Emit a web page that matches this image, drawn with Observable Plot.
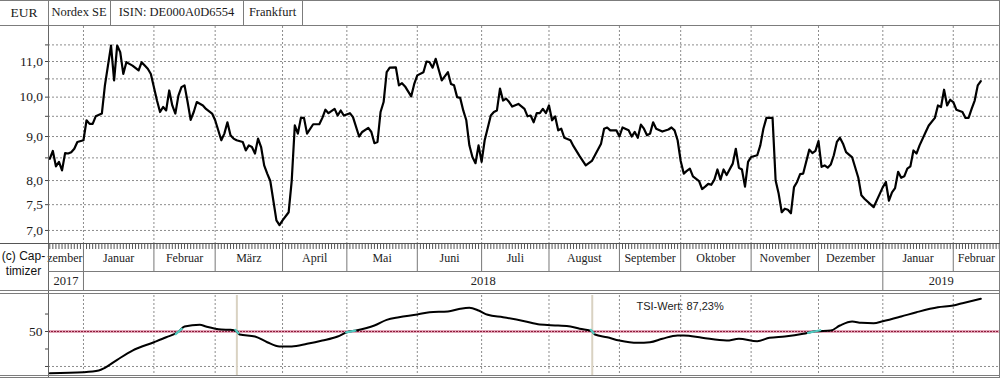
<!DOCTYPE html>
<html><head><meta charset="utf-8">
<script src="https://cdn.jsdelivr.net/npm/d3@7"></script>
<script src="https://cdn.jsdelivr.net/npm/@observablehq/plot@0.6"></script>
<style>
html,body{margin:0;padding:0;background:#fff;}
#root{position:relative;width:1000px;height:378px;overflow:hidden;background:#fff;}
#root svg{position:absolute;left:0;}
.ln{position:absolute;background:#7c7c7c;}
.cell{position:absolute;top:0;height:25px;line-height:25px;text-align:center;font-family:"Liberation Serif",serif;font-size:12.5px;color:#1a1a1a;white-space:nowrap;}
#copy{position:absolute;left:0;top:244px;width:47px;height:46px;background:#fff;font-family:"Liberation Sans",Arial,sans-serif;font-size:12px;line-height:15px;text-align:center;color:#111;}
</style></head><body><div id="root"></div>
<script>
// ---------- data ----------
const tradingStart = "2017-12-15"; // trading day 0 (weekdays counted from here)
const priceDay = [
  0,1,2,3,4,5,6,7,8,9,
  11,12,13,14,15,17,18,20,21,22,
  23,24,25,26,27,29,30,32,33,35,
  36,37,38,39,40,41,42,43,44,45,
  46,47,48,50,51,53,54,56,57,58,
  59,60,61,63,64,65,66,67,68,69,
  70,71,72,74,75,76,78,79,80,81,
  82,83,84,86,88,89,90,91,93,94,
  95,96,98,99,101,102,104,105,106,107,
  108,109,110,111,113,114,115,116,118,119,
  120,122,123,124,125,126,127,128,130,131,
  132,133,134,135,136,137,138,139,140,141,
  142,144,145,146,147,148,149,150,151,153,
  155,156,157,158,159,160,161,162,163,164,
  165,166,167,168,170,171,173,175,177,178,
  180,181,182,183,185,186,187,189,190,191,
  192,193,194,195,196,197,198,200,202,203,
  204,205,206,207,208,209,210,212,213,214,
  215,216,217,218,219,220,221,223,224,225,
  226,227,228,229,231,232,233,234,236,237,
  238,239,240,241,242,243,244,245,246,248,
  249,250,251,252,253,254,255,256,257,258,
  259,260,262,264,265,266,269,271,272,273,
  274,275,276,277,278,279,280,281,282,283,
  284,286,287,289,290,291,292,293,294,295,
  296,298,299,300,301,302,303,304
];
const priceEUR = [
  8.48,8.66,8.31,8.41,8.22,8.61,8.60,8.63,8.71,8.87,
  8.91,9.40,9.31,9.31,9.50,9.57,10.32,11.48,10.46,11.48,
  11.28,10.64,10.98,10.93,10.88,10.74,10.98,10.79,10.64,9.91,
  9.61,9.74,9.65,10.18,9.78,9.57,10.04,10.27,10.32,9.87,
  9.41,9.61,9.87,9.78,9.69,9.57,9.40,8.91,9.07,9.35,
  9.03,8.95,8.91,8.87,8.67,8.79,8.75,8.60,8.95,8.75,
  8.33,8.15,7.99,7.19,7.10,7.19,7.35,8.00,9.27,9.07,
  9.46,9.46,9.07,9.30,9.30,9.46,9.67,9.58,9.69,9.52,
  9.65,9.52,9.58,9.48,9.00,9.11,9.21,9.11,8.84,8.87,
  9.61,9.87,10.69,10.82,10.83,10.32,10.38,10.29,10.02,10.36,
  10.60,10.69,11.00,10.98,10.82,11.08,10.76,10.46,10.69,10.36,
  10.32,10.00,9.98,9.65,9.40,8.79,8.52,8.38,8.79,8.41,
  8.91,9.52,9.61,9.65,10.23,9.91,9.96,9.87,9.75,9.82,
  9.69,9.50,9.52,9.35,9.58,9.58,9.69,9.58,9.78,9.40,
  9.50,9.15,9.19,8.97,8.91,8.77,8.54,8.33,8.43,8.56,
  8.83,9.19,9.22,9.15,9.15,9.00,9.22,9.15,9.00,9.11,
  8.97,9.29,9.19,9.03,9.07,9.35,9.19,9.12,9.17,9.22,
  9.15,8.91,8.43,8.15,8.21,8.26,8.09,7.99,7.82,7.87,
  7.93,7.91,8.02,8.24,8.02,8.24,8.12,8.37,8.71,8.28,
  8.24,7.87,8.41,8.52,8.56,8.79,9.19,9.46,9.46,8.00,
  7.72,7.35,7.42,7.40,7.33,7.86,7.97,8.14,8.15,8.69,
  8.61,8.66,8.89,8.30,8.33,8.28,8.35,8.56,8.87,8.97,
  8.83,8.63,8.51,8.06,7.69,7.62,7.45,7.72,7.86,7.97,
  7.58,7.75,7.84,8.19,8.06,8.09,8.26,8.31,8.67,8.60,
  8.79,9.11,9.27,9.46,9.78,9.74,10.20,9.78,9.93,9.87,
  9.67,9.61,9.46,9.46,9.69,9.91,10.32,10.44
];
const tsiDay = [0,11,16,18,22,27,34,38,42,44,49,51,56,59,61,62,67,71,75,79,84,89,94,97,100,106,110,114,120,124,130,134,137,140,143,148,155,160,166,170,173,177,178,182,186,192,196,200,205,207,213,221,225,231,235,240,246,250,255,258,262,265,269,272,278,283,290,295,298,304];
const tsiValue = [-9.6,-8.2,-5.8,-1.9,9.5,22.8,34.7,41.8,49.6,57.2,59.6,57.2,52.9,52.4,50.4,45.7,42.9,34.7,28.6,28.6,32.4,37.1,42.9,49,51.4,58.6,66.7,70.4,74.3,77.6,78.6,82.5,83.9,80,73.9,70.4,64.7,60,58.6,57.2,53.9,50.6,45.7,41.8,37.1,33.8,34.7,39.6,44.3,44.3,41,37.1,39.6,36.1,41,42.9,46.7,50.4,51.4,58.6,64.3,62.4,61.9,64.7,71.5,77.6,84.7,87.2,90.5,96.8];
const tsiLevel = 50;
const tsiLabel = "TSI-Wert: 87,23%";
const monthNames = ["Dezember","Januar","Februar","März","April","Mai","Juni","Juli","August","September","Oktober","November","Dezember","Januar","Februar"];
const monthStarts = ["2017-12-01","2018-01-01","2018-02-01","2018-03-01","2018-04-01","2018-05-01","2018-06-01","2018-07-01","2018-08-01","2018-09-01","2018-10-01","2018-11-01","2018-12-01","2019-01-01","2019-02-01","2019-03-01"];
const yearNames = ["2017","2018","2019"];
const yearStarts = ["2017-01-01","2018-01-01","2019-01-01","2020-01-01"];
const priceGrid = [7,7.5,8,8.5,9,9.5,10,10.5,11,11.5];
const priceLabels = [7,7.5,8,9,10,11];
const tsiTicks = [0,25,50,75];
const headerTexts = ["EUR","Nordex SE","ISIN: DE000A0D6554","Frankfurt"];
const copyrightText = ["(c) Cap-","timizer"];

// ---------- helpers ----------
function weekdayNumber(iso){
  const days = Math.round(Date.parse(iso + "T00:00:00Z")/864e5);
  const t = days - 4; const w = Math.floor(t/7); const r = t - 7*w;
  return w*5 + Math.min(r,5);
}
const day0 = weekdayNumber(tradingStart);
const tradingDay = iso => weekdayNumber(iso) - day0;
const xDomain = [-0.42, 310.1];
const inView = d => d > xDomain[0] && d < xDomain[1];
const comma = d => d.toFixed(1).replace(".", ",");
const pxPerDay = 951 / (xDomain[1] - xDomain[0]);

// a month name that does not fit its visible cell is cut at the left edge, like the original
const ctx = document.createElement("canvas").getContext("2d");
ctx.font = "12px 'Liberation Serif'";
function fitLeft(name, widthPx){
  let s = name;
  while (s.length > 1 && ctx.measureText(s).width > widthPx) s = s.slice(1);
  return s;
}

const price = priceDay.map((d,i)=>({day:d, eur:priceEUR[i]}));
const tsi = tsiDay.map((d,i)=>({day:d, v:tsiValue[i]}));

const mDays = monthStarts.map(tradingDay);
const monthCells = monthNames.map((name,i)=>{
  const a = Math.max(mDays[i], xDomain[0]), b = Math.min(mDays[i+1], xDomain[1]);
  const w = (b - a) * pxPerDay;
  const cut = ctx.measureText(name).width > w - 2;
  return {name: cut ? fitLeft(name, w + 2) : name, mid:(a+b)/2, end:b, cut};
});
const monthBounds = mDays.filter(inView);
const yDays = yearStarts.map(tradingDay);
const yearCells = yearNames.map((name,i)=>{
  const a = Math.max(yDays[i], xDomain[0]), b = Math.min(yDays[i+1], xDomain[1]);
  return {name, mid:(a+b)/2};
});
const yearBounds = yDays.filter(inView);
const allDays = d3.range(0, Math.floor(xDomain[1])+1);

// crossings of the TSI with its 50 level
const cross = [], sells = [];
for (let i=0;i<tsi.length-1;i++){
  const a=tsi[i], b=tsi[i+1];
  if ((a.v-tsiLevel)*(b.v-tsiLevel) < 0){
    const t=(tsiLevel-a.v)/(b.v-a.v), c=a.day+t*(b.day-a.day), s=(b.v-a.v)/(b.day-a.day);
    const h = Math.min(2, (b.day-a.day)/2);
    cross.push({id:i, day:c-h, v:tsiLevel-h*s},{id:i, day:c+h, v:tsiLevel+h*s});
    if (b.v < a.v) sells.push(c);
  }
}

const gridStyle = {stroke:"#8c8c8c", strokeOpacity:1, strokeDasharray:"2,2", strokeWidth:1};
const baseStyle = {fontFamily:"'Liberation Serif', serif", fontSize:"13.5px", color:"#1a1a1a", background:"transparent", overflow:"visible"};
const root = document.getElementById("root");

// ---------- main price chart ----------
const main = Plot.plot({
  width:1000, height:217, marginTop:0, marginBottom:0, marginLeft:48, marginRight:1,
  style:baseStyle,
  x:{domain:xDomain, axis:null},
  y:{type:"log", domain:[6.76, 12.08], axis:null},
  marks:[
    Plot.gridY(priceGrid, gridStyle),
    Plot.gridX(monthBounds, gridStyle),
    Plot.axisY(priceGrid, {label:null, tickSize:3, stroke:"#444", tickFormat:() => ""}),
    Plot.text(priceLabels, {y:d => d, text:comma, frameAnchor:"left", dx:-5.5, textAnchor:"end", lineAnchor:"middle", fill:"#1a1a1a"}),
    Plot.line(price, {x:"day", y:"eur", stroke:"#000", strokeWidth:2.2, strokeLinejoin:"round"})
  ]
});
main.style.top = "26px";
root.appendChild(main);

// ---------- month / year axis strip ----------
const strip = Plot.plot({
  width:1000, height:48, marginTop:0, marginBottom:0, marginLeft:48, marginRight:1,
  style:baseStyle,
  x:{domain:xDomain, axis:null},
  marks:[
    Plot.ruleX(allDays, {insetBottom:42, stroke:"#555", strokeWidth:1}),
    Plot.ruleX(monthBounds, {insetBottom:20, stroke:"#777", strokeWidth:1}),
    Plot.text(monthCells.filter(d => d.cut), {x:"end", text:"name", frameAnchor:"top", dy:15, dx:-1, textAnchor:"end", lineAnchor:"middle", fontSize:12, fill:"#222"}),
    Plot.text(monthCells.filter(d => !d.cut), {x:"mid", text:"name", frameAnchor:"top", dy:15, lineAnchor:"middle", fontSize:12, fill:"#222"}),
    Plot.ruleX(yearBounds, {insetTop:28, stroke:"#777", strokeWidth:1}),
    Plot.text(yearCells, {x:"mid", text:"name", frameAnchor:"top", dy:37, lineAnchor:"middle", fontSize:12.5, fill:"#222"})
  ]
});
strip.style.top = "243px";
root.appendChild(strip);

// ---------- lower TSI panel ----------
const lower = Plot.plot({
  width:1000, height:85, marginTop:2, marginBottom:3, marginLeft:48, marginRight:1,
  style:baseStyle,
  x:{domain:xDomain, axis:null},
  y:{domain:[-12.9, 101.5], axis:null},
  marks:[
    Plot.gridX(monthBounds, gridStyle),
    Plot.gridY([0], gridStyle),
    Plot.ruleX(sells, {stroke:"#d9d2c2", strokeWidth:2}),
    Plot.ruleY([tsiLevel], {stroke:"#e2a6b8", strokeWidth:3}),
    Plot.ruleY([tsiLevel], {stroke:"#8e1c3c", strokeWidth:1, strokeDasharray:"2,1"}),
    Plot.line(tsi, {x:"day", y:"v", stroke:"#000", strokeWidth:2, curve:"monotone-x"}),
    Plot.line(cross, {x:"day", y:"v", z:"id", stroke:"#52c9c0", strokeWidth:2.2}),
    Plot.axisY(tsiTicks, {label:null, tickSize:3, tickPadding:3, stroke:"#444", tickFormat:d => d === tsiLevel ? String(d) : "", fill:"#1a1a1a"}),
    Plot.text([tsiLabel], {text:d => d, frameAnchor:"top-left", dx:588, dy:11, textAnchor:"start", lineAnchor:"middle", fontFamily:"'Liberation Sans', Arial, sans-serif", fontSize:11, fill:"#222"})
  ]
});
lower.style.top = "293px";
root.appendChild(lower);

// ---------- header, frame lines, copyright ----------
const cellEdges = [0,48,110,243,302];
headerTexts.forEach((t,i)=>{
  const c = document.createElement("div");
  c.className = "cell"; c.textContent = t;
  c.style.left = cellEdges[i] + "px"; c.style.width = (cellEdges[i+1]-cellEdges[i]) + "px";
  if (i === 0) c.style.fontSize = "13.5px";
  root.appendChild(c);
});
const cp = document.createElement("div");
cp.id = "copy";
cp.innerHTML = '<div style="padding-top:5px">' + copyrightText.join("<br>") + "</div>";
root.appendChild(cp);
function ln(x,y,w,h,col){
  const d = document.createElement("div"); d.className = "ln";
  Object.assign(d.style, {left:x+"px", top:y+"px", width:w+"px", height:h+"px"});
  if (col) d.style.background = col;
  root.appendChild(d);
}
ln(0,0,1000,1);
ln(0,25,1000,1);
cellEdges.slice(1).forEach(x => ln(x,0,1,25));
ln(48,25,1,353,"#666");
ln(999,0,1,378);
ln(0,243,1000,1,"#555");
ln(48,271,952,1);
ln(0,290,1000,1);
ln(0,293,1000,1);
ln(0,375,1000,1);
ln(0,377,1000,1);
</script></body></html>
